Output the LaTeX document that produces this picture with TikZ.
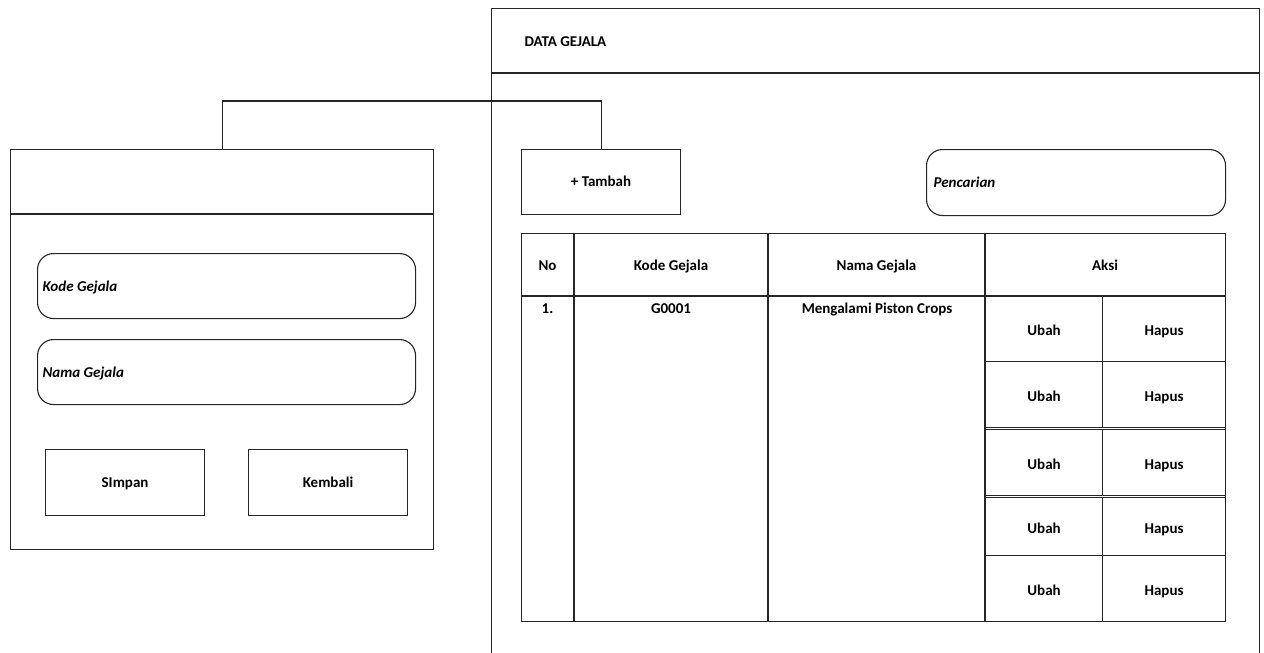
\documentclass[tikz,border=0pt]{standalone}
\usepackage{fontspec}
\setmainfont{Carlito}
\begin{document}
\begin{tikzpicture}[x=1pt,y=-1pt,line width=1.1pt,
  font=\fontsize{15}{18}\selectfont\bfseries,
  box/.style={draw=black!85, inner sep=0pt, anchor=north west},
  field/.style={box, rounded corners=16pt},
  lbl/.style={inner sep=0pt, text height=12.7pt, text depth=3pt},
  ilbl/.style={lbl, anchor=west, font=\fontsize{15}{18}\selectfont\bfseries\itshape},
  ln/.style={draw=black!85}]
\useasboundingbox (0,0) rectangle (1264,653);
% main page frame
\node[box, minimum width=768pt, minimum height=720pt] (main) at (491,8) {};
\draw[ln] ([yshift=-65pt]main.north west) -- ([yshift=-65pt]main.north east);
\node[lbl, anchor=west] (title) at (524,42) {DATA GEJALA};
% left form
\node[box, minimum width=423pt, minimum height=400pt] (form) at (10,149) {};
\draw[ln] ([yshift=-65pt]form.north west) -- ([yshift=-65pt]form.north east);
\node[field, minimum width=378pt, minimum height=65pt] (kode) at (37,253) {};
\node[ilbl] (kodet) at ([xshift=5pt,yshift=-1pt]kode.west) {Kode Gejala};
\node[field, minimum width=378pt, minimum height=65pt] (nama) at (37,339) {};
\node[ilbl] (namat) at ([xshift=5pt,yshift=-1pt]nama.west) {Nama Gejala};
\node[box, minimum width=159pt, minimum height=66pt] (simpan) at (45,449) {};
\node[lbl] at (simpan.center) {SImpan};
\node[box, minimum width=159pt, minimum height=66pt] (kembali) at (248,449) {};
\node[lbl] at (kembali.center) {Kembali};
% buttons on page
\node[box, minimum width=159pt, minimum height=65pt] (tambah) at (521,149) {};
\node[lbl] at (tambah.center) {+ Tambah};
\node[field, minimum width=299pt, minimum height=66pt] (cari) at (926,149) {};
\node[ilbl] (carit) at ([xshift=7pt]cari.west) {Pencarian};
% connector
\draw[ln] (form.north) -- ++(0,-48) -| (tambah.north);
% table
\node[box, minimum width=704pt, minimum height=388pt] (tbl) at (521,233) {};
\draw[ln] (521,296) -- (1225,296);
\draw[ln] (574,233) -- (574,621);
\draw[ln] (768,233) -- (768,621);
\draw[ln] (985,233) -- (985,621);
\node[lbl] (hno) at (547.5,266) {No};
\node[lbl] (hkode) at (671,266) {Kode Gejala};
\node[lbl] (hnama) at (876.5,266) {Nama Gejala};
\node[lbl] (haksi) at (1105,266) {Aksi};
\node[lbl] (r1no) at (547.5,309) {1.};
\node[lbl] (r1kode) at (671,309) {G0001};
\node[lbl] (r1nama) at (877,309) {Mengalami Piston Crops};
% action cells
\foreach \i/\t/\h in {1/296/65, 2/361/66, 3/429/66, 4/497/58, 5/555/66}{
  \node[box, minimum width=117pt, minimum height=\h pt] (u\i) at (985,\t) {};
  \node[lbl] at ([yshift=-2pt]u\i.center) {Ubah};
  \node[box, minimum width=123pt, minimum height=\h pt] (h\i) at (1102,\t) {};
  \node[lbl] at ([yshift=-2pt]h\i.center) {Hapus};
}
\end{tikzpicture}
\end{document}
